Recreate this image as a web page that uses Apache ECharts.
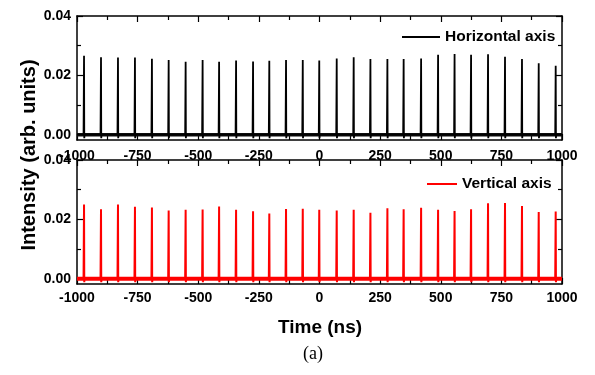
<!DOCTYPE html>
<html>
<head>
<meta charset="utf-8">
<script src="https://cdn.jsdelivr.net/npm/echarts@6.0.0/dist/echarts.min.js"></script>
<style>html,body{margin:0;padding:0;background:#fff;}#c{width:595px;height:375px;}</style>
</head>
<body>
<div id="c"></div>
<script>
// Pulse times (ns), shared by both panels
const peakTimes = [-971,-901,-831,-761,-691,-622,-552,-482,-414,-344,-274,-207,-138,-69,-1,71,141,210,280,347,419,489,557,625,695,765,835,904,974];
// Peak intensities (arb. units)
const horizontalPeaks = [0.0266,0.0261,0.0260,0.0260,0.0256,0.0252,0.0246,0.0252,0.0246,0.0250,0.0247,0.0249,0.0252,0.0252,0.0250,0.0257,0.0261,0.0255,0.0255,0.0255,0.0257,0.0269,0.0272,0.0269,0.0271,0.0263,0.0255,0.0241,0.0232];
const verticalPeaks = [0.0250,0.0234,0.0250,0.0242,0.0240,0.0230,0.0232,0.0233,0.0243,0.0232,0.0227,0.0220,0.0235,0.0236,0.0232,0.0230,0.0232,0.0222,0.0237,0.0234,0.0239,0.0232,0.0228,0.0234,0.0254,0.0255,0.0245,0.0225,0.0226];
// Axis ticks
const xTickLabels = [-1000,-750,-500,-250,0,250,500,750,1000];
const yMajor = [0, 0.02, 0.04];
const yMinor = [0.01, 0.03];
const seriesNames = ['Horizontal axis', 'Vertical axis'];

const FONT = 'Liberation Sans';
const BLK = '#000';

function spikes(times, heights) {
  const d = [[-1000, 0]];
  times.forEach((t, i) => {
    d.push([t - 2, 0]);
    d.push([t, heights[i]]);
    d.push([t + 1, -0.0012]);
    d.push([t + 2, 0]);
  });
  d.push([1000, 0]);
  return d;
}

const xAxis = [];
const yAxis = [];
function addAxes(gi, labelMargin) {
  const base = {
    type: 'value', gridIndex: gi, min: xTickLabels[0], max: xTickLabels[xTickLabels.length - 1], interval: 250,
    axisLine: { onZero: false, lineStyle: { color: BLK, width: 1.5 } },
    axisTick: { inside: true, length: 6, lineStyle: { color: BLK, width: 1.2 } },
    minorTick: { show: true, splitNumber: 2, length: 4, lineStyle: { color: BLK, width: 1.2 } },
    splitLine: { show: false }, minorSplitLine: { show: false }
  };
  xAxis.push(Object.assign({}, base, { position: 'bottom',
    axisLabel: { margin: labelMargin, color: BLK, fontSize: 14, fontWeight: 'bold', fontFamily: FONT,
      formatter: v => String(v) } }));
  xAxis.push(Object.assign({}, base, { position: 'top', axisLabel: { show: false } }));
  const ybase = { type: 'value', gridIndex: gi, min: -0.0018, max: 0.04, splitLine: { show: false } };
  yAxis.push(Object.assign({}, ybase, { position: 'left',
    axisLine: { show: true, onZero: false, lineStyle: { color: BLK, width: 1.5 } },
    axisTick: { inside: true, length: 6, customValues: yMajor, lineStyle: { color: BLK, width: 1.2 } },
    axisLabel: { customValues: yMajor, margin: 6, color: BLK, fontSize: 14, fontWeight: 'bold', fontFamily: FONT,
      formatter: v => v.toFixed(2) } }));
  yAxis.push(Object.assign({}, ybase, { position: 'left', axisLine: { show: false, onZero: false },
    axisTick: { show: true, inside: true, length: 4, customValues: yMinor, lineStyle: { color: BLK, width: 1.2 } },
    axisLabel: { show: false } }));
  yAxis.push(Object.assign({}, ybase, { position: 'right',
    axisLine: { show: true, onZero: false, lineStyle: { color: BLK, width: 1.5 } },
    axisTick: { inside: true, length: 6, customValues: yMajor, lineStyle: { color: BLK, width: 1.2 } },
    axisLabel: { show: false } }));
  yAxis.push(Object.assign({}, ybase, { position: 'right', axisLine: { show: false, onZero: false },
    axisTick: { show: true, inside: true, length: 4, customValues: yMinor, lineStyle: { color: BLK, width: 1.2 } },
    axisLabel: { show: false } }));
}
addAxes(0, 9);
addAxes(1, 7);

const chart = echarts.init(document.getElementById('c'), null, { renderer: 'canvas' });
chart.setOption({
  animation: false,
  backgroundColor: '#fff',
  grid: [
    { left: 77, top: 16, width: 485, height: 124 },
    { left: 77, top: 160, width: 485, height: 124 }
  ],
  xAxis: xAxis,
  yAxis: yAxis,
  legend: [
    { data: [seriesNames[0]], left: 402, top: 29, icon: 'rect', itemWidth: 38, itemHeight: 2, padding: 0,
      selectedMode: false, textStyle: { fontSize: 15.5, fontWeight: 'bold', fontFamily: FONT, color: BLK } },
    { data: [seriesNames[1]], left: 427, top: 176, icon: 'rect', itemWidth: 30, itemHeight: 2, padding: 0,
      selectedMode: false, textStyle: { fontSize: 15.5, fontWeight: 'bold', fontFamily: FONT, color: BLK } }
  ],
  series: [
    { type: 'line', xAxisIndex: 0, yAxisIndex: 0, data: [[-1000, 0], [1000, 0]], symbol: 'none', silent: true,
      lineStyle: { color: '#111', width: 3.5 }, z: 2 },
    { name: seriesNames[0], type: 'line', xAxisIndex: 0, yAxisIndex: 0, data: spikes(peakTimes, horizontalPeaks),
      symbol: 'none', color: BLK, lineStyle: { color: BLK, width: 1.8 }, z: 3 },
    { type: 'line', xAxisIndex: 2, yAxisIndex: 4, data: [[-1000, 0], [1000, 0]], symbol: 'none', silent: true,
      lineStyle: { color: '#f00', width: 4 }, z: 2 },
    { name: seriesNames[1], type: 'line', xAxisIndex: 2, yAxisIndex: 4, data: spikes(peakTimes, verticalPeaks),
      symbol: 'none', color: '#f00', lineStyle: { color: '#f00', width: 2 }, z: 3 }
  ],
  graphic: [
    { type: 'text', x: 29, y: 155, rotation: Math.PI / 2,
      style: { text: 'Intensity (arb. units)', font: 'bold 20px "Liberation Sans"', fill: BLK, align: 'center', verticalAlign: 'middle' } },
    { type: 'text', x: 320, y: 328,
      style: { text: 'Time (ns)', font: 'bold 19px "Liberation Sans"', fill: BLK, align: 'center', verticalAlign: 'middle' } },
    { type: 'text', x: 313, y: 354,
      style: { text: '(a)', font: '18px "Liberation Serif"', fill: BLK, align: 'center', verticalAlign: 'middle' } }
  ]
});
</script>
</body>
</html>
